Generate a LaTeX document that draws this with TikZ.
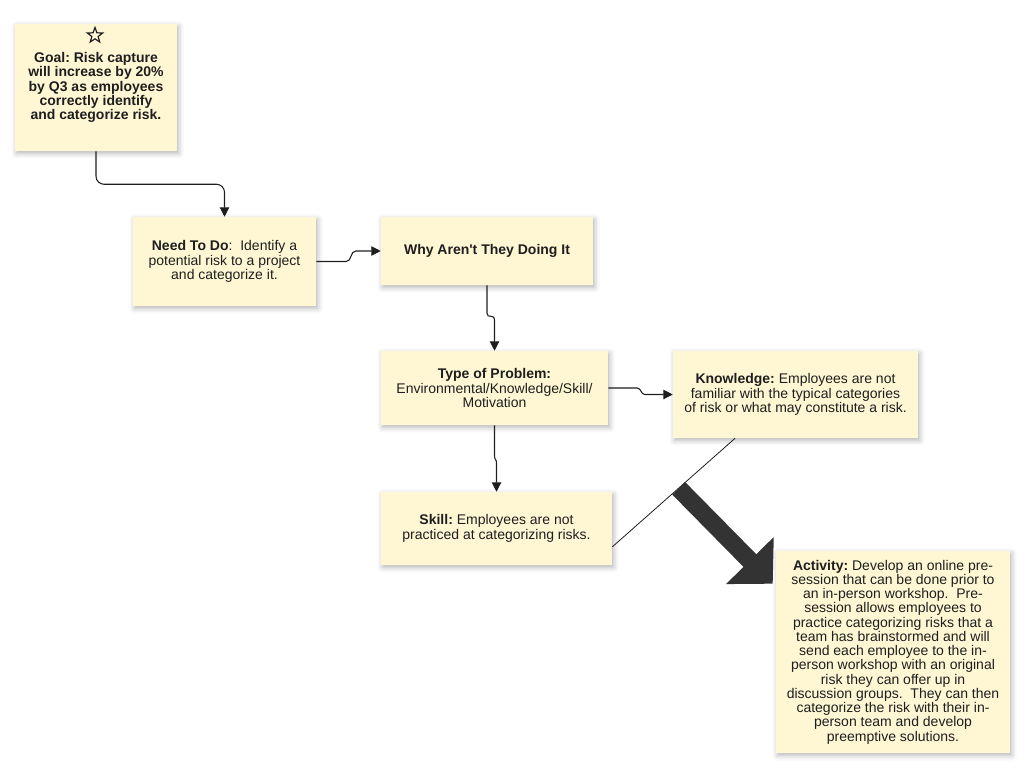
\documentclass[tikz,border=0pt]{standalone}
\usepackage{fontspec}
\setmainfont{Liberation Sans}
\usetikzlibrary{arrows.meta,shadows.blur,calc,shapes.geometric}
\definecolor{sticky}{HTML}{FFF7D4}
\definecolor{ink}{HTML}{1E1E1E}
\definecolor{bigarrow}{HTML}{333333}
\begin{document}
\begin{tikzpicture}[x=0.75pt,y=-0.75pt,
  card/.style={fill=sticky, draw=none, align=center, inner sep=0pt, text=ink,
    font=\fontsize{10.5}{10.7}\selectfont\frenchspacing,
    blur shadow={shadow xshift=1.2pt, shadow yshift=-1.8pt, shadow blur radius=4pt, shadow opacity=30}},
  conn/.style={draw=ink, line width=0.8pt, -{Triangle[length=7pt,width=7pt]}},
  staricon/.style={star, star points=5, star point ratio=2.4, draw=ink, line width=0.9pt, minimum size=12pt, inner sep=0pt},
]
\useasboundingbox (0,0) rectangle (1024,764);

\node[card, minimum width=121.5pt, minimum height=95.25pt] (goal) at (96,87.5)
  {\textbf{Goal: Risk capture}\\ \textbf{will increase by 20\%}\\ \textbf{by Q3 as employees}\\ \textbf{correctly identify}\\ \textbf{and categorize risk.}};
\node[staricon] (star) at (95,35.5) {};

\node[card, minimum width=137.25pt, minimum height=66.75pt] (need) at (224.5,261.5)
  {\textbf{Need To Do}:~ Identify a\\ potential risk to a project\\ and categorize it.};

\node[card, minimum width=159pt, minimum height=51pt] (why) at (487,251)
  {\textbf{Why Aren\textquotesingle t They Doing It}};

\node[card, minimum width=170.25pt, minimum height=55.5pt] (type) at (494.5,388)
  {\textbf{Type of Problem:}\\ Environmental/Knowledge/Skill/\\ Motivation};

\node[card, minimum width=183.75pt, minimum height=65.25pt] (know) at (795.5,394.5)
  {\textbf{Knowledge:} Employees are not\\ familiar with the typical categories\\ of risk or what may constitute a risk.};

\node[card, minimum width=173.25pt, minimum height=54.75pt] (skill) at (496.5,528.5)
  {\textbf{Skill:} Employees are not\\ practiced at categorizing risks.};

\node[card, minimum width=175.5pt, minimum height=151.5pt] (act) at (893,652)
  {\textbf{Activity:} Develop an online pre-\\ session that can be done prior to\\ an in-person workshop.~ Pre-\\ session allows employees to\\ practice categorizing risks that a\\ team has brainstormed and will\\ send each employee to the in-\\ person workshop with an original\\ risk they can offer up in\\ discussion groups.~ They can then\\ categorize the risk with their in-\\ person team and develop\\ preemptive solutions.};

% connectors
\draw[conn, rounded corners=6pt] (goal.south) -- ($(goal.south)+(0,33)$) -| (need.north);
\draw[conn] (need.east) -- ($(need.east)+(30,0)$) to[out=0,in=180] ($(why.west)+(-25,0)$) -- (why.west);
\draw[conn] (why.south) -- ($(why.south)+(0,28)$) .. controls ($(why.south)+(0,34)$) and ($(type.north)+(0,-38)$) .. ($(type.north)+(0,-30)$) -- (type.north);
\draw[conn] (type.east) -- ($(type.east)+(29,0)$) to[out=0,in=180] ($(know.west)+(-28,0)$) -- (know.west);
\draw[conn] (type.south) -- ($(type.south)+(0,30)$) .. controls ($(type.south)+(0,36)$) and ($(skill.north)+(0,-34)$) .. ($(skill.north)+(0,-28)$) -- (skill.north);

\coordinate (sA) at ($(skill.south east)!0.25!(skill.north east)$);
\coordinate (kA) at ($(know.south west)!0.254!(know.south east)$);
\draw[draw=ink, line width=0.6pt] (sA) -- (kA);
\coordinate (bS) at ($(sA)!0.54!(kA)$);
\coordinate (bT) at ($(act.north west)+(-3,33)$);
\draw[draw=bigarrow, line width=13.5pt, -{Triangle[length=24.4pt,width=48.75pt]}] (bS) -- (bT);
\end{tikzpicture}
\end{document}
